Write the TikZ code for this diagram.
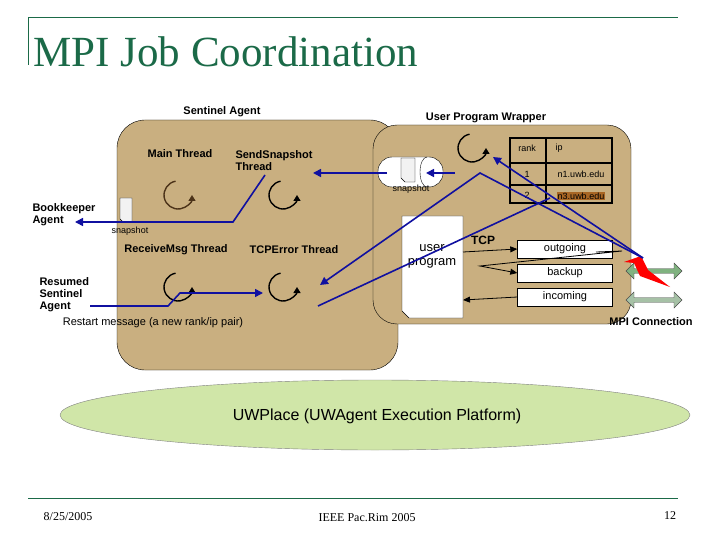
\documentclass[tikz,border=0pt]{standalone}
\usepackage{fontspec}
\setmainfont{Liberation Sans}
\newfontfamily\serif{Liberation Serif}
\usetikzlibrary{arrows.meta,shapes.geometric,shapes.arrows,shapes.symbols}
\definecolor{tan}{HTML}{C9AF80}
\definecolor{ttl}{HTML}{1B6A48}
\definecolor{bl}{HTML}{1010A0}
\definecolor{grn}{HTML}{D0E6A8}
\begin{document}
\begin{tikzpicture}[x=1pt,y=-1pt,
  lab/.style={font=\fontsize{11}{12}\selectfont\bfseries,align=left},
  sm/.style={font=\fontsize{9}{10}\selectfont},
  cyc/.style={line width=1.4pt,-{Triangle[length=6pt,width=7pt]}},
  bline/.style={bl,line width=1.6pt},
  barr/.style={bline,-{Triangle[length=8pt,width=8pt]}},
  box/.style={draw,fill=white,minimum width=95pt,minimum height=18pt,inner sep=0pt,font=\fontsize{11}{12}\selectfont}]
\useasboundingbox (0,0) rectangle (720,540);
% frame
\draw[ttl,line width=1pt] (28,65) -- (28,18) -- (678,18);
\draw[ttl,line width=1pt] (28,498) -- (678,498);
\node[ttl,anchor=west,font=\serif\fontsize{43}{45}\selectfont] (title) at (30,52) {MPI Job Coordination};
\node[font=\serif\fontsize{12}{14}\selectfont] (d) at (68,517) {8/25/2005};
\node[font=\serif\fontsize{12}{14}\selectfont] (c) at (367,518) {IEEE Pac.Rim 2005};
\node[font=\serif\fontsize{12}{14}\selectfont] (p) at (670,516) {12};
% containers
\draw[fill=tan,rounded corners=28pt] (117,120) rectangle (398,370);
\draw[fill=tan,rounded corners=24pt] (373,125) rectangle (631,324);
\node[lab] (sa) at (222,112) {Sentinel Agent};
\node[lab] (upw) at (486,118) {User Program Wrapper};
% sentinel contents
\node[lab] (mt) at (180,154) {Main Thread};
\node[lab,anchor=west] (ss) at (232,161) {SendSnapshot\\Thread};
\node[lab] (rm) at (176,250) {ReceiveMsg Thread};
\node[lab] (te) at (294,250) {TCPError Thread};
\draw[cyc,brown!40!black] (178,195)+(-100:14) arc (-100:-360:14);
\draw[cyc] (283,195)+(-100:14) arc (-100:-360:14);
\draw[cyc] (178,287)+(-100:14) arc (-100:-360:14);
\draw[cyc] (283,287)+(-100:14) arc (-100:-360:14);
\draw[cyc] (472,148)+(-100:14) arc (-100:-360:14);
\node[lab,anchor=west] (bk) at (29,215) {Bookkeeper\\Agent};
\node[lab,anchor=west] (rs) at (36,295) {Resumed\\Sentinel\\Agent};
\node[font=\fontsize{11}{12}\selectfont] (rmsg) at (153,323) {Restart message (a new rank/ip pair)};
\draw[fill=gray!10] (120,198) -- (132,198) -- (132,222) -- (123,222) -- (120,219) -- cycle;
\node[sm] (sn1) at (130,231) {snapshot};
\coordinate (b1) at (265,175); \coordinate (b2) at (233,222); \coordinate (bk1) at (75,222);
\draw[barr] (b1) -- (b2) -- (bk1);
\coordinate (r1) at (90,306); \coordinate (r2) at (168,306); \coordinate (r3) at (180,293); \coordinate (r4) at (263,293);
\draw[barr] (r1) -- (r2) -- (r3) -- (r4);
% wrapper contents
\draw[fill=white,rounded corners=14pt] (378,157) rectangle (443,187);
\draw (427,157) arc (90:270:7pt and 15pt);
\draw[fill=gray!10] (401,158) -- (415,158) -- (415,182) -- (405,182) -- (401,178) -- cycle;
\node[sm] (sn2) at (411,189) {snapshot};
\coordinate (s1) at (387,173); \coordinate (s2) at (313,173);
\draw[barr] (s1) -- (s2);
\coordinate (s3) at (455,173); \coordinate (s4) at (426,173);
\draw[barr] (s3) -- (s4);
% table
\draw[line width=1.4pt] (510,138) rectangle (612,203);
\draw[line width=1.4pt] (546,138) -- (546,203) (510,163) -- (612,163) (510,185) -- (612,185);
\node[sm] (t1) at (527,148) {rank};
\node[sm,anchor=west] (t2) at (552,148) {ip};
\node[sm] (t3) at (527,174) {1};
\node[sm] (t4) at (581,174) {n1.uwb.edu};
\node[sm] (t5) at (527,195) {2};
\node[sm,fill=brown!70!orange!80!black,inner sep=1pt] (t6) at (581,196) {n3.uwb.edu};
% user program
\draw[fill=white] (402,216) -- (463,216) -- (463,318) -- (409,318) -- (402,311) -- cycle;
\node[font=\fontsize{13}{14}\selectfont,align=center] (up) at (432,256) {user\\program};
\node[lab,font=\fontsize{12}{13}\selectfont\bfseries] (tcp) at (483,240) {TCP};
\node[box] (out) at (565,249) {outgoing};
\node[box] (bak) at (565,273) {backup};
\node[box] (inc) at (565,297) {incoming};
\coordinate (u1) at (463,252); \coordinate (u2) at (463,300);
\draw[-{Triangle[length=7pt,width=6pt]},thick] (u1) -- (out.west);
\draw[-{Triangle[length=7pt,width=6pt]},thick] (inc.west) -- (u2);
\coordinate (z1) at (596,252); \coordinate (z2) at (622,251); \coordinate (z3) at (480,266);
\draw[-{Triangle[length=7pt,width=6pt]},thick] (z1) -- (z2) -- (z3) -- (bak.west);
% MPI connection
\node[double arrow,draw=gray!60!black,fill=green!40!black!50,minimum width=16pt,minimum height=56pt,double arrow head extend=3pt,inner sep=1pt] (da1) at (654,271) {};
\node[double arrow,draw=gray!60!black,fill=green!30!black!35,minimum width=16pt,minimum height=56pt,double arrow head extend=3pt,inner sep=1pt] (da2) at (654,300) {};
\fill[red] (624,262) -- (641,256) -- (648,270) -- (670,287) -- (640,276) -- (634,263) -- cycle;
\node[lab] (mpi) at (651,322) {MPI Connection};
\coordinate (l1) at (643,258); \coordinate (l2) at (480,173); \coordinate (l3) at (320,285);
\draw[barr] (l1) -- (l2) -- (l3);
\coordinate (l4) at (493,157);
\draw[barr] (l1) -- (l4);
\coordinate (n1) at (550,198); \coordinate (n2) at (318,306);
\draw[bline] (n1) -- (n2);
% platform
\node[ellipse,draw=gray,fill=grn,minimum width=630pt,minimum height=70pt] (pl) at (375,415) {};
\node[font=\fontsize{16}{18}\selectfont] (plt) at (377,416) {UWPlace (UWAgent Execution Platform)};
\end{tikzpicture}
\end{document}
